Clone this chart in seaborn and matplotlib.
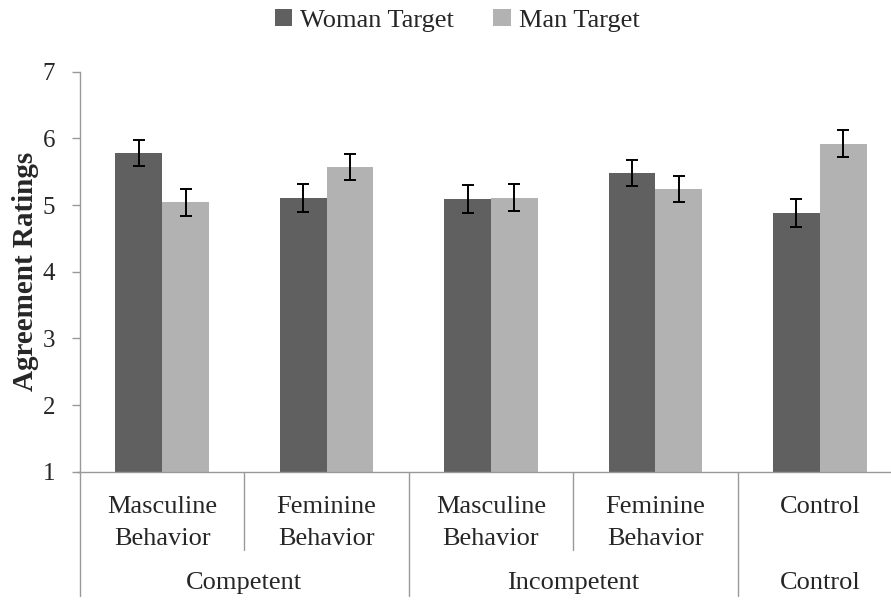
import pandas as pd
import matplotlib.pyplot as plt
import matplotlib.transforms as mtransforms
import seaborn as sns

# data
conditions = ["Masculine\nBehavior", "Feminine\nBehavior", "Masculine\nBehavior",
              "Feminine\nBehavior", "Control"]
groups = ["Competent", "Incompetent", "Control"]
group_sizes = [2, 2, 1]
woman_target = [5.78, 5.10, 5.09, 5.48, 4.88]
man_target = [5.04, 5.57, 5.11, 5.24, 5.92]
woman_err = [0.20, 0.21, 0.21, 0.20, 0.21]
man_err = [0.20, 0.20, 0.20, 0.20, 0.20]
series = ["Woman Target", "Man Target"]
colors = ["#606060", "#b2b2b2"]

sns.set_theme(style="white")
plt.rcParams["font.family"] = "serif"
plt.rcParams["font.serif"] = ["Liberation Serif", "DejaVu Serif"]

keys = [f"c{i}" for i in range(len(conditions))]
df = pd.DataFrame({
    "cond": keys * 2,
    "target": [series[0]] * len(keys) + [series[1]] * len(keys),
    "rating": woman_target + man_target,
})

fig = plt.figure(figsize=(8.91, 6.02), dpi=100)
ax = fig.add_axes([0.0898, 0.2164, 0.9226, 0.6645])

sns.barplot(data=df, x="cond", y="rating", hue="target", order=keys,
            hue_order=series, palette=colors, width=0.57, linewidth=0,
            saturation=1, errorbar=None, ax=ax)

# error bars placed on the bars seaborn drew
for cont, errs in zip(ax.containers, [woman_err, man_err]):
    xs = [p.get_x() + p.get_width() / 2 for p in cont.patches]
    ys = [p.get_height() + p.get_y() for p in cont.patches]
    ax.errorbar(xs, ys, yerr=errs, fmt="none", ecolor="black",
                elinewidth=1.4, capsize=4.5, capthick=1.4)

ax.set_ylim(1, 7)
ax.set_xlim(-0.5, 4.5)
ax.set_yticks(range(1, 8))
ax.tick_params(axis="y", labelsize=18, length=6, width=1, color="#999999",
               pad=12, left=True)
ax.set_xticks([])
ax.set_xlabel("")
ax.set_ylabel("Agreement Ratings", fontsize=21, fontweight="bold")
ax.yaxis.set_label_coords(-0.05, 0.5)

for s in ["top", "right"]:
    ax.spines[s].set_visible(False)
for s in ["left", "bottom"]:
    ax.spines[s].set_color("#999999")
    ax.spines[s].set_linewidth(1)

# two-level category axis
trans = mtransforms.blended_transform_factory(ax.transData, ax.transAxes)
for i, lab in enumerate(conditions):
    ax.text(i, -0.06, lab, transform=trans, ha="center", va="top",
            fontsize=19, linespacing=1.6)

start = 0
for g, n in zip(groups, group_sizes):
    ax.text(start + (n - 1) / 2, -0.25, g, transform=trans, ha="center",
            va="top", fontsize=19)
    ax.plot([start - 0.5, start - 0.5], [0, -0.31], transform=trans,
            color="#999999", lw=1, clip_on=False)
    for k in range(1, n):
        ax.plot([start + k - 0.5] * 2, [0, -0.195], transform=trans,
                color="#999999", lw=1, clip_on=False)
    start += n

ax.plot([-0.52, -0.5], [0, 0], transform=trans, color="#999999", lw=1,
        clip_on=False)

sns.move_legend(ax, "upper center", bbox_to_anchor=(0.513, 1.025),
                bbox_transform=fig.transFigure, ncol=2, title=None,
                frameon=False, fontsize=19, handlelength=0.65,
                handleheight=0.65, handletextpad=0.3, columnspacing=1.5)

fig.savefig("out.png", dpi=100)
